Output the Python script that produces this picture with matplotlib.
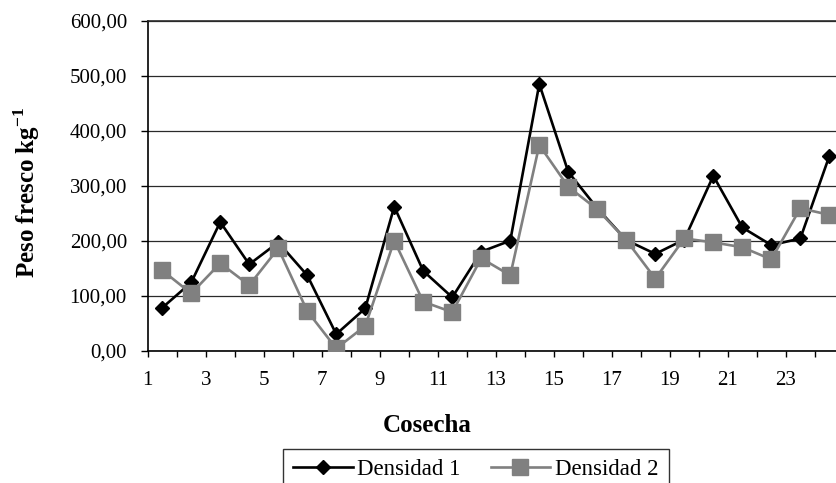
import numpy as np
import matplotlib
matplotlib.use("Agg")
import matplotlib.pyplot as plt
from matplotlib.ticker import FuncFormatter
from matplotlib.transforms import ScaledTranslation

cosecha = list(range(1, 25))
densidad_1 = [78, 124, 234, 157, 197, 137, 30, 77, 262, 145, 97, 180,
              200, 485, 325, 259, 201, 176, 202, 318, 224, 192, 204, 354]
densidad_2 = [146, 104, 159, 119, 186, 72, 4, 45, 200, 89, 70, 168,
              137, 374, 298, 257, 201, 131, 204, 197, 188, 166, 259, 247]

plt.rcParams["font.family"] = ["Liberation Serif", "DejaVu Serif"]

fig = plt.figure(figsize=(8.36, 4.83), dpi=100)
ax = fig.add_axes([0.1767, 0.274, 0.8233, 0.683])

# categories sit between the tick marks
x = np.arange(len(cosecha)) + 0.5
ax.plot(x, densidad_1, color="black", lw=1.9, marker="D", ms=7.5,
        mec="black", mfc="black", label="Densidad 1", zorder=3)
ax.plot(x, densidad_2, color="#808080", lw=1.9, marker="s", ms=11,
        mec="#808080", mfc="#808080", label="Densidad 2", zorder=4)

ax.set_ylim(0, 600)
ax.set_yticks(range(0, 601, 100))
ax.yaxis.set_major_formatter(FuncFormatter(lambda v, p: f"{v:.2f}".replace(".", ",")))
ax.grid(axis="y", color="#2a2a2a", lw=0.9)
ax.set_axisbelow(True)

ax.set_xlim(0, 23.73)
ax.set_xticks(range(0, 24))
ax.set_xticklabels([str(c) if c % 2 == 1 else "" for c in cosecha])
for lbl in ax.get_xticklabels():
    lbl.set_transform(lbl.get_transform() + ScaledTranslation(-0.04, 0, fig.dpi_scale_trans))

ax.tick_params(axis="x", direction="out", length=4.5, width=1, pad=10, labelsize=15)
ax.tick_params(axis="y", direction="out", length=5, width=1, pad=10, labelsize=15)

for side in ("left", "bottom", "top"):
    ax.spines[side].set_color("black")
    ax.spines[side].set_linewidth(1.2)
ax.spines["right"].set_visible(False)
ax.spines["top"].set_color("#2a2a2a")

ax.set_ylabel("Peso fresco kg$^{\\mathregular{-1}}$", fontsize=18, fontweight="bold")
ax.yaxis.set_label_coords(-0.154, 0.48)
ax.set_xlabel("Cosecha", fontsize=18, fontweight="bold", va="center")
ax.xaxis.set_label_coords(0.406, -0.228)

leg = fig.legend(loc="upper left", bbox_to_anchor=(283 / 836, 1 - 449 / 483),
                 ncol=2, fontsize=16.5, frameon=True, fancybox=False,
                 edgecolor="black", handlelength=2.6, handletextpad=0.2,
                 columnspacing=1.3, borderpad=0.45, borderaxespad=0)
leg.get_frame().set_linewidth(1.0)

fig.savefig("out.png", dpi=100)
